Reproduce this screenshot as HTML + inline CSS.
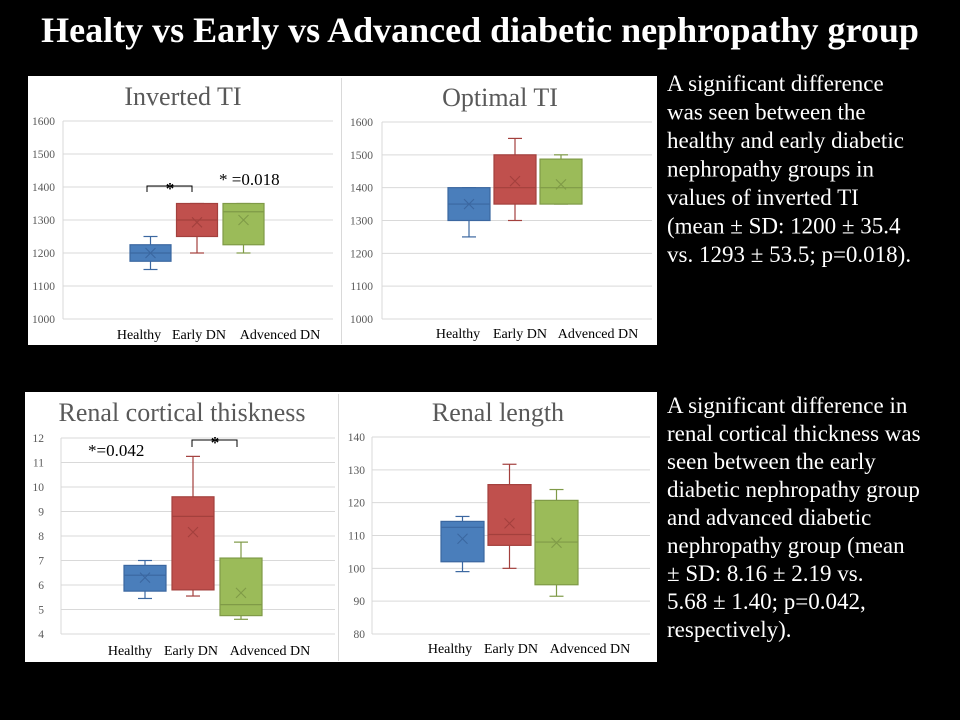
<!DOCTYPE html>
<html><head><meta charset="utf-8"><style>
html,body{margin:0;padding:0;background:#000;}
svg{display:block;}
.tick{font-family:"Liberation Serif",serif;font-size:11.5px;fill:#595959;}
.cat{font-family:"Liberation Serif",serif;font-size:14px;fill:#000;}
.ttl{font-family:"Liberation Serif",serif;font-size:26px;fill:#595959;}
.note{font-family:"Liberation Serif",serif;font-size:23px;fill:#fff;}
.ann{font-family:"Liberation Serif",serif;font-size:17px;fill:#000;}
</style></head><body>
<svg id="s" width="960" height="720" viewBox="0 0 960 720" xmlns="http://www.w3.org/2000/svg">
<rect x="0" y="0" width="960" height="720" fill="#000"/>
<text x="480" y="42" text-anchor="middle" font-family="Liberation Serif,serif" font-weight="bold" font-size="36" fill="#fff">Healty vs Early vs Advanced diabetic nephropathy group</text>
<rect x="28" y="76" width="629" height="269" fill="#fff"/>
<line x1="341.5" y1="78" x2="341.5" y2="344" stroke="#d9d9d9"/>
<rect x="25" y="392" width="632" height="270" fill="#fff"/>
<line x1="338.5" y1="394" x2="338.5" y2="661" stroke="#d9d9d9"/>
<g id="charts"></g>
<g>
<text class="note" x="667" y="91">A significant difference</text>
<text class="note" x="667" y="119.5">was seen between the</text>
<text class="note" x="667" y="148">healthy and early diabetic</text>
<text class="note" x="667" y="176.5">nephropathy groups in</text>
<text class="note" x="667" y="205">values of inverted TI</text>
<text class="note" x="667" y="233.5">(mean ± SD: 1200 ± 35.4</text>
<text class="note" x="667" y="262">vs. 1293 ± 53.5; p=0.018).</text>
</g>
<g>
<text class="note" x="667" y="413">A significant difference in</text>
<text class="note" x="667" y="441">renal cortical thickness was</text>
<text class="note" x="667" y="469">seen between the early</text>
<text class="note" x="667" y="497">diabetic nephropathy group</text>
<text class="note" x="667" y="525">and advanced diabetic</text>
<text class="note" x="667" y="553">nephropathy group (mean</text>
<text class="note" x="667" y="581"> ± SD: 8.16 ± 2.19 vs.</text>
<text class="note" x="667" y="609">5.68 ± 1.40; p=0.042,</text>
<text class="note" x="667" y="637">respectively).</text>
</g>
</svg>
<script>
const categories = ["Healthy", "Early DN", "Advenced DN"];
// Inverted TI
const invMin = [1150, 1200, 1200];
const invQ1 = [1175, 1250, 1225];
const invMed = [1200, 1300, 1325];
const invQ3 = [1225, 1350, 1350];
const invMax = [1250, 1350, 1350];
const invMean = [1200, 1293, 1300];
const invTicks = [1000, 1100, 1200, 1300, 1400, 1500, 1600];
// Optimal TI
const optMin = [1250, 1300, 1350];
const optQ1 = [1300, 1350, 1350];
const optMed = [1350, 1400, 1400];
const optQ3 = [1400, 1500, 1487];
const optMax = [1400, 1550, 1500];
const optMean = [1350, 1420, 1410];
const optTicks = [1000, 1100, 1200, 1300, 1400, 1500, 1600];
// Renal cortical thickness
const rctMin = [5.45, 5.55, 4.6];
const rctQ1 = [5.75, 5.8, 4.75];
const rctMed = [6.4, 8.8, 5.2];
const rctQ3 = [6.8, 9.6, 7.1];
const rctMax = [7.0, 11.25, 7.75];
const rctMean = [6.3, 8.16, 5.68];
const rctTicks = [4, 5, 6, 7, 8, 9, 10, 11, 12];
// Renal length
const rlMin = [99, 100, 91.5];
const rlQ1 = [102, 107, 95];
const rlMed = [112.5, 110.3, 108];
const rlQ3 = [114.3, 125.5, 120.7];
const rlMax = [115.8, 131.7, 124];
const rlMean = [109, 113.7, 107.8];
const rlTicks = [80, 90, 100, 110, 120, 130, 140];

const fills = ["#4a7ebb", "#c0504d", "#9bbb59"];
const strokes = ["#3b67a0", "#a3403d", "#7f9a47"];
const NS = "http://www.w3.org/2000/svg";
const root = document.getElementById("charts");

function mk(tag, attrs, parent) {
  const e = document.createElementNS(NS, tag);
  for (const k in attrs) e.setAttribute(k, attrs[k]);
  (parent || root).appendChild(e);
  return e;
}

function drawChart(c) {
  const g = mk("g", {});
  
  
  const lo = c.ticks[0], hi = c.ticks[c.ticks.length - 1];
  const y = v => c.yBottom - (v - lo) / (hi - lo) * (c.yBottom - c.yTop);
  const x = i => c.x0 + c.step * i;
  const t = mk("text", {x: c.titleX, y: c.titleY, "text-anchor": "middle", class: "ttl"}, g);
  t.textContent = c.title;
  
  
  c.ticks.forEach(v => {
    const ln = mk("line", {x1: c.gx1, x2: c.gx2, y1: y(v), y2: y(v), stroke: "#d9d9d9", "stroke-width": 1}, g);
    
    
    const tx = mk("text", {x: c.tickX, y: y(v) + 4, "text-anchor": "end", class: "tick"}, g);
    tx.textContent = v;
    
    
  });
  mk("line", {x1: c.gx1, x2: c.gx1, y1: c.yTop, y2: c.yBottom, stroke: "#d9d9d9"}, g);
  categories.forEach((cat, i) => {
    const cx = x(i), w = c.bw, col = strokes[i];
    const bg = mk("g", {}, g);
    
    
    mk("line", {x1: cx, x2: cx, y1: y(c.max[i]), y2: y(c.q3[i]), stroke: col, "stroke-width": 1.2}, bg);
    mk("line", {x1: cx, x2: cx, y1: y(c.min[i]), y2: y(c.q1[i]), stroke: col, "stroke-width": 1.2}, bg);
    mk("line", {x1: cx - 7, x2: cx + 7, y1: y(c.max[i]), y2: y(c.max[i]), stroke: col, "stroke-width": 1.2}, bg);
    mk("line", {x1: cx - 7, x2: cx + 7, y1: y(c.min[i]), y2: y(c.min[i]), stroke: col, "stroke-width": 1.2}, bg);
    mk("rect", {x: cx - w / 2, y: y(c.q3[i]), width: w, height: y(c.q1[i]) - y(c.q3[i]), fill: fills[i], stroke: col, "stroke-width": 1.2}, bg);
    mk("line", {x1: cx - w / 2, x2: cx + w / 2, y1: y(c.med[i]), y2: y(c.med[i]), stroke: col, "stroke-width": 1.2}, bg);
    const my = y(c.mean[i]);
    mk("path", {d: `M${cx-5},${my-5}L${cx+5},${my+5}M${cx-5},${my+5}L${cx+5},${my-5}`, stroke: col, "stroke-width": 1.1, fill: "none"}, bg);
    const lb = mk("text", {x: c.catX[i], y: c.catY, "text-anchor": "middle", class: "cat"}, g);
    lb.textContent = cat;
    
    
  });
}

drawChart({name: "inverted-ti-chart", title: "Inverted TI", titleX: 183, titleY: 105,
  ticks: invTicks, min: invMin, q1: invQ1, med: invMed, q3: invQ3, max: invMax, mean: invMean,
  yTop: 121, yBottom: 319, gx1: 63, gx2: 333, tickX: 55, x0: 150.5, step: 46.5, bw: 41,
  catX: [139, 199, 280], catY: 339});
drawChart({name: "optimal-ti-chart", title: "Optimal TI", titleX: 500, titleY: 106,
  ticks: optTicks, min: optMin, q1: optQ1, med: optMed, q3: optQ3, max: optMax, mean: optMean,
  yTop: 122, yBottom: 319, gx1: 382, gx2: 652, tickX: 373, x0: 469, step: 46, bw: 42,
  catX: [458, 520, 598], catY: 338});
drawChart({name: "renal-cortical-thickness-chart", title: "Renal cortical thiskness", titleX: 182, titleY: 421,
  ticks: rctTicks, min: rctMin, q1: rctQ1, med: rctMed, q3: rctQ3, max: rctMax, mean: rctMean,
  yTop: 438, yBottom: 634, gx1: 61, gx2: 335, tickX: 44, x0: 145, step: 48, bw: 42,
  catX: [130, 191, 270], catY: 655});
drawChart({name: "renal-length-chart", title: "Renal length", titleX: 498, titleY: 421,
  ticks: rlTicks, min: rlMin, q1: rlQ1, med: rlMed, q3: rlQ3, max: rlMax, mean: rlMean,
  yTop: 437, yBottom: 634, gx1: 372, gx2: 650, tickX: 365, x0: 462.5, step: 47, bw: 43,
  catX: [450, 511, 590], catY: 653});

// annotations
const a1 = mk("path", {d: "M147,192V186H192V192", stroke: "#000", fill: "none", "stroke-width": 1});


const a2 = mk("text", {x: 170, y: 194, "text-anchor": "middle", class: "ann", "font-size": "22", "font-weight": "bold"});
a2.textContent = "*";


const a3 = mk("text", {x: 219, y: 185, class: "ann"});
a3.textContent = "* =0.018";


const a4 = mk("text", {x: 88, y: 456, class: "ann"});
a4.textContent = "*=0.042";


const a5 = mk("path", {d: "M192,447V440H237V447", stroke: "#000", fill: "none", "stroke-width": 1});


const a6 = mk("text", {x: 215, y: 448, "text-anchor": "middle", class: "ann", "font-size": "22", "font-weight": "bold"});
a6.textContent = "*";


</script>
</body></html>
